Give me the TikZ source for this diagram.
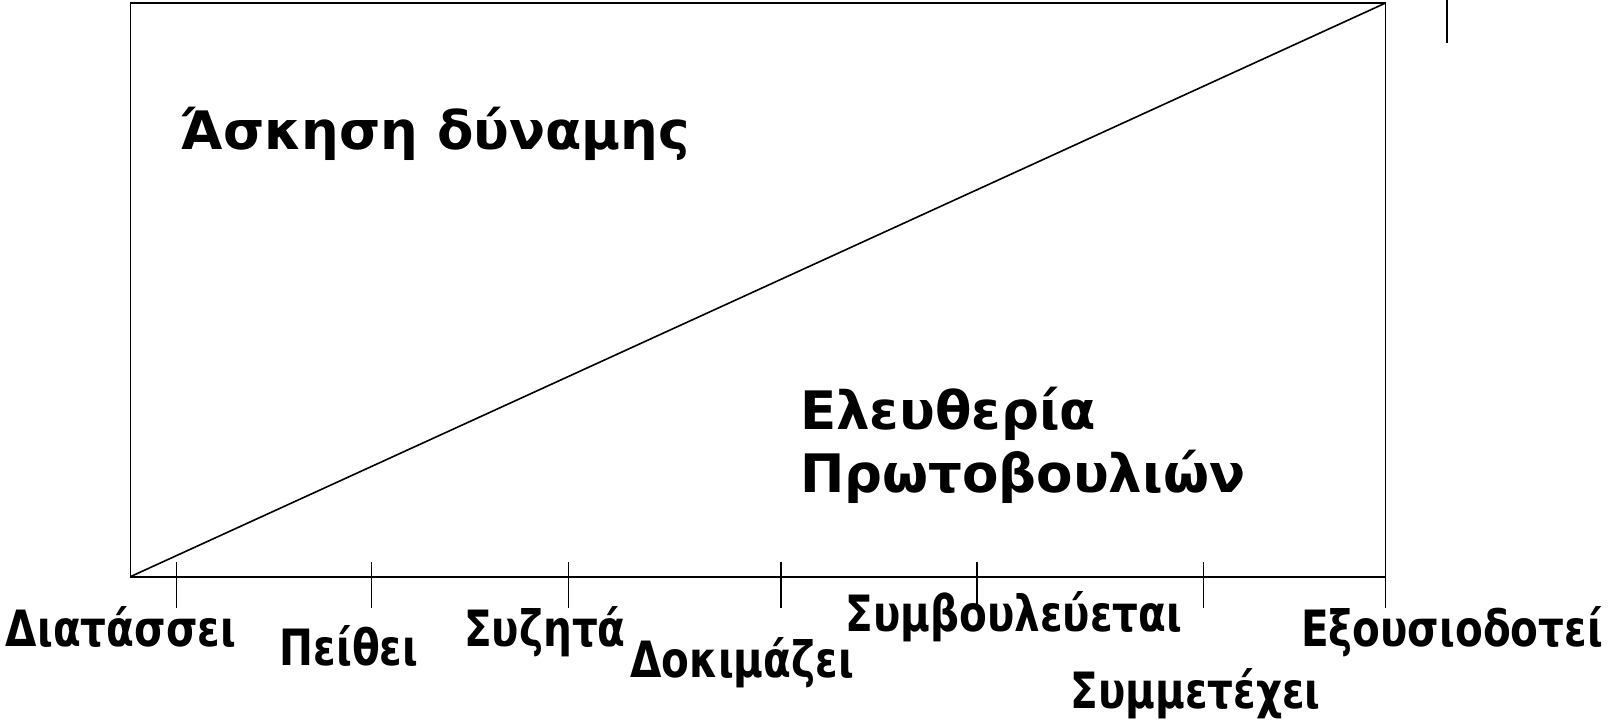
\documentclass[tikz,border=0pt]{standalone}
\usepackage{fontspec}
\setmainfont{DejaVu Sans}
\newfontfamily\lblfont[FakeStretch=0.81]{DejaVu Sans Bold}
\newfontfamily\bigfont{DejaVu Sans Bold}
\begin{document}
\begin{tikzpicture}[x=1pt,y=-1pt,
  frame/.style={line width=1.6pt},
  tick/.style={line width=1.4pt},
  lbl/.style={font=\lblfont\fontsize{50}{50}\selectfont, inner sep=0pt, anchor=base},
  big/.style={font=\bigfont\fontsize{53}{53}\selectfont, inner sep=0pt, anchor=base west}]
\useasboundingbox (0,0) rectangle (1609,721);
\coordinate (bl) at (130.3,576.7);
\coordinate (tl) at (130.3,3.1);
\coordinate (tr) at (1385.4,3.1);
\coordinate (br) at (1385.4,576.7);
\coordinate (brx) at (1385.4,607.5);
\draw[frame] (bl) -- (tl) -- (tr) -- (brx);
\draw[frame] (bl) -- (br);
\draw[frame] (bl) -- (tr);
\foreach \n/\x in {t1/176.5,t2/371.5,t3/568.5,t4/781,t5/977,t6/1203.7}{
  \coordinate (\n a) at (\x,562.4);
  \coordinate (\n b) at (\x,607.5);
  \draw[tick] (\n a) -- (\n b);
}
\coordinate (m1) at (1447,0);
\coordinate (m2) at (1447,43);
\draw[tick] (m1) -- (m2);
\node[lbl] (l1) at (121,646.5) {Διατάσσει};
\node[lbl] (l2) at (349,665) {Πείθει};
\node[lbl] (l3) at (545,646.5) {Συζητά};
\node[lbl] (l4) at (742,677) {Δοκιμάζει};
\node[lbl] (l5) at (1014,631) {Συμβουλεύεται};
\node[lbl] (l6) at (1452,646.5) {Εξουσιοδοτεί};
\node[lbl] (l7) at (1195.5,708) {Συμμετέχει};
\node[big] (a) at (180.6,149) {Άσκηση δύναμης};
\node[big] (e1) at (800,429) {Ελευθερία};
\node[big] (e2) at (800,492.6) {Πρωτοβουλιών};
\end{tikzpicture}
\end{document}
